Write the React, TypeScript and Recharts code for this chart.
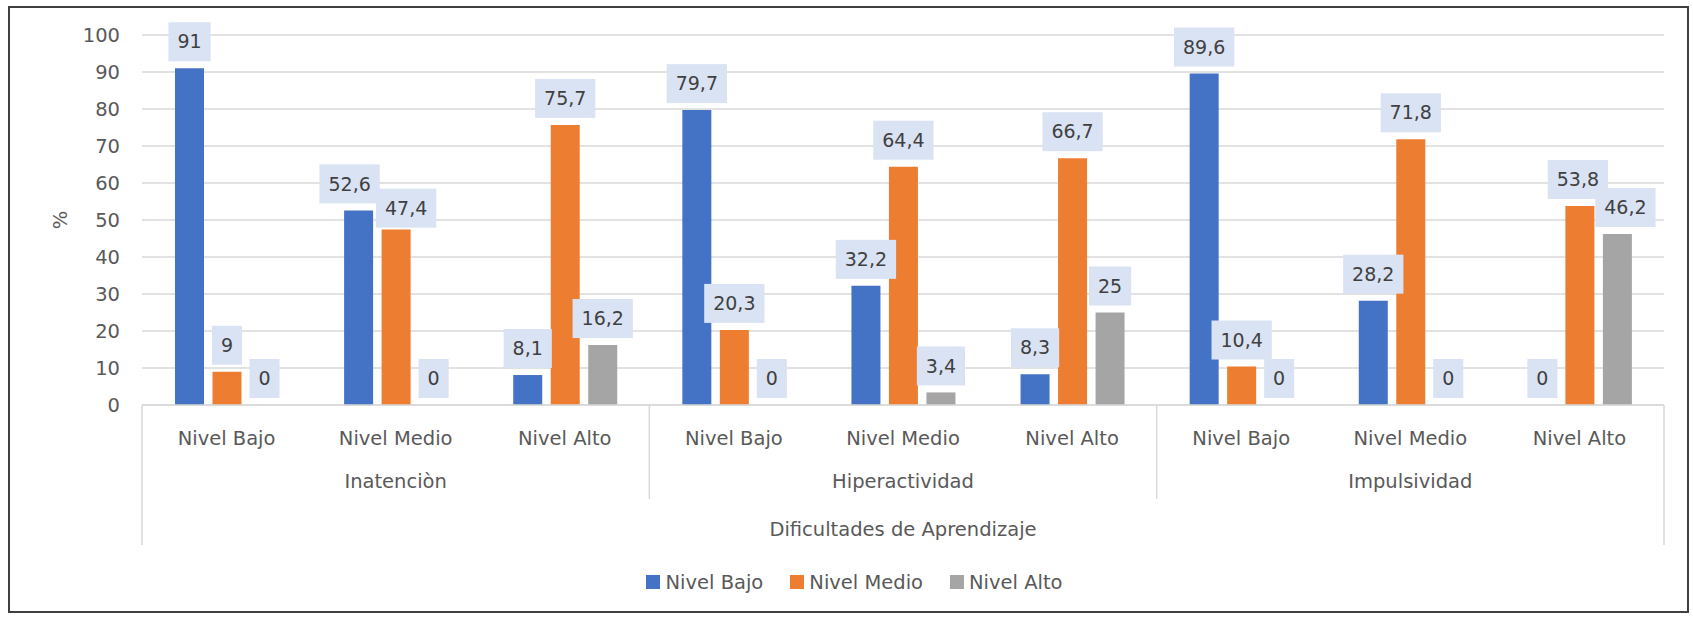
import React from "react";
import {
  BarChart,
  Bar,
  XAxis,
  YAxis,
  CartesianGrid,
  Legend,
  LabelList,
} from "recharts";

// category levels, grouped by dificultad
const levels = ["Nivel Bajo", "Nivel Medio", "Nivel Alto"];
const groups = ["Inatenciòn", "Hiperactividad", "Impulsividad"];
const axisTitle = "Dificultades de Aprendizaje";
const yTicks = [0, 10, 20, 30, 40, 50, 60, 70, 80, 90, 100];

// % per level, in category order (3 groups x 3 levels)
const nivelBajo = [91, 52.6, 8.1, 79.7, 32.2, 8.3, 89.6, 28.2, 0];
const nivelMedio = [9, 47.4, 75.7, 20.3, 64.4, 66.7, 10.4, 71.8, 53.8];
const nivelAlto = [0, 0, 16.2, 0, 3.4, 25, 0, 0, 46.2];

const series = [
  { key: "bajo", name: "Nivel Bajo", color: "#4472C4" },
  { key: "medio", name: "Nivel Medio", color: "#ED7D31" },
  { key: "alto", name: "Nivel Alto", color: "#A5A5A5" },
];

const data = groups.flatMap((group, gi) =>
  levels.map((level, li) => {
    const i = gi * levels.length + li;
    return {
      group,
      level,
      bajo: nivelBajo[i],
      medio: nivelMedio[i],
      alto: nivelAlto[i],
    };
  })
);

const W = 1693;
const H = 617;
const FONT = "'DejaVu Sans', sans-serif";
const TEXT = "#595959";
const GRID = "#D9D9D9";
const margin = { top: 35, right: 29, bottom: 23, left: 55 };
const Y_AXIS_W = 87;
const X_AXIS_H = 165;
const PLOT_W = W - margin.left - Y_AXIS_W - margin.right;
const BAND = PLOT_W / data.length;

// labels that were pushed sideways so they don't collide
const labelNudge: Record<string, Record<number, [number, number]>> = {
  bajo: { 1: [-9, 0] },
  medio: { 1: [10, 5], 8: [-2, 0] },
  alto: { 8: [8, 0] },
};

const fmt = (v: number) => String(v).replace(".", ",");

const textWidth = (s: string, fs: number) =>
  s.split("").reduce((w, ch) => w + (ch === "," ? 0.318 : 0.636) * fs, 0);

const makeValueLabel = (key: string) => (props: any) => {
  const { x, y, width, height, value, index } = props;
  const text = fmt(Number(value));
  const fs = 19;
  const boxW = textWidth(text, fs) + 18;
  const boxH = 39;
  const [dx, dy] = labelNudge[key][index] ?? [0, 0];
  const cx = Number(x) + Number(width) / 2 + dx;
  // top of the bar (height can be negative depending on direction)
  const top = Math.min(Number(y), Number(y) + Number(height || 0));
  const bottom = top - 7 + dy;
  return (
    <g>
      <rect
        x={cx - boxW / 2}
        y={bottom - boxH}
        width={boxW}
        height={boxH}
        fill="#DAE3F3"
      />
      <text
        x={cx}
        y={bottom - boxH / 2}
        dy="0.35em"
        textAnchor="middle"
        fontFamily={FONT}
        fontSize={fs}
        fill="#404040"
      >
        {text}
      </text>
    </g>
  );
};

// three-row category axis: level, group, overall title, with separators
function CategoryTick(props: any) {
  const { x, y, index } = props;
  const row = data[index];
  const last = data.length - 1;
  const common = {
    textAnchor: "middle" as const,
    fontFamily: FONT,
    fontSize: 19.5,
    fill: TEXT,
    dy: "0.35em",
  };
  return (
    <g>
      <text x={x} y={y + 33} {...common}>
        {row.level}
      </text>
      {index % 3 === 1 && (
        <text x={x} y={y + 76} {...common}>
          {row.group}
        </text>
      )}
      {index === 4 && (
        <text x={x} y={y + 124} {...common}>
          {axisTitle}
        </text>
      )}
      {index % 3 === 0 && (
        <line
          x1={x - BAND / 2}
          x2={x - BAND / 2}
          y1={y}
          y2={y + (index === 0 ? 140 : 94)}
          stroke={GRID}
          strokeWidth={1.5}
        />
      )}
      {index === last && (
        <line
          x1={x + BAND / 2}
          x2={x + BAND / 2}
          y1={y}
          y2={y + 140}
          stroke={GRID}
          strokeWidth={1.5}
        />
      )}
    </g>
  );
}

const renderLegend = () => (
  <div
    style={{
      display: "flex",
      justifyContent: "center",
      alignItems: "center",
      height: 24,
      fontFamily: FONT,
      fontSize: 19.5,
      color: TEXT,
    }}
  >
    {series.map((s, i) => (
      <div
        key={s.key}
        style={{ display: "flex", alignItems: "center", marginLeft: i ? 27 : 0 }}
      >
        <span
          style={{
            display: "inline-block",
            width: 14,
            height: 14,
            background: s.color,
            marginRight: 5,
          }}
        />
        {s.name}
      </div>
    ))}
  </div>
);

export default function App() {
  return (
    <div
      style={{
        position: "absolute",
        left: 0,
        top: 0,
        width: W,
        height: H,
        background: "#fff",
      }}
    >
      <BarChart
        width={W}
        height={H}
        data={data}
        margin={margin}
        barSize={29}
        barGap={8.5}
      >
        <CartesianGrid vertical={false} stroke={GRID} strokeWidth={1.5} />
        <XAxis
          dataKey="level"
          height={X_AXIS_H}
          interval={0}
          tickLine={false}
          tickSize={0}
          tickMargin={0}
          axisLine={{ stroke: GRID, strokeWidth: 1.5 }}
          tick={<CategoryTick />}
        />
        <YAxis
          width={Y_AXIS_W}
          domain={[0, 100]}
          ticks={yTicks}
          interval={0}
          axisLine={false}
          tickLine={false}
          tickSize={0}
          tickMargin={22}
          tick={{ fill: TEXT, fontSize: 19.5, fontFamily: FONT }}
          label={{
            value: "%",
            content: (p: any) => {
              const vb = p.viewBox;
              const cx = vb.x + 5;
              const cy = vb.y + vb.height / 2;
              return (
                <text
                  x={cx}
                  y={cy}
                  dy="0.35em"
                  textAnchor="middle"
                  transform={`rotate(-90, ${cx}, ${cy})`}
                  fontFamily={FONT}
                  fontSize={19.5}
                  fill={TEXT}
                >
                  %
                </text>
              );
            },
          }}
        />
        <Legend
          verticalAlign="bottom"
          content={renderLegend}
          wrapperStyle={{ left: 8, width: W }}
        />
        {series.map((s) => (
          <Bar
            key={s.key}
            dataKey={s.key}
            name={s.name}
            fill={s.color}
            minPointSize={0.01}
            isAnimationActive={false}
          >
            <LabelList dataKey={s.key} content={makeValueLabel(s.key)} />
          </Bar>
        ))}
      </BarChart>
      <div
        style={{
          position: "absolute",
          left: 8,
          top: 6,
          width: W - 4 - 8,
          height: 607,
          border: "2px solid #404040",
          boxSizing: "border-box",
          pointerEvents: "none",
        }}
      />
    </div>
  );
}
